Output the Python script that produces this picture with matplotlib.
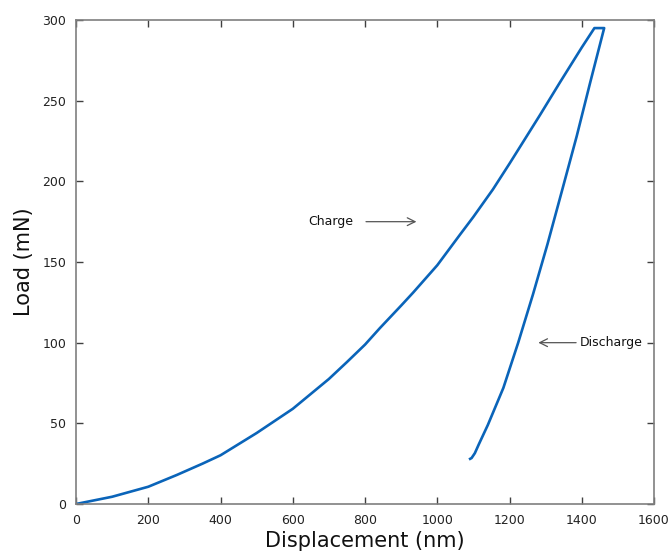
import numpy as np
import matplotlib.pyplot as plt

# load-displacement data
charge_x = [0, 100, 200, 279, 350, 400, 500, 600, 700, 750, 800, 841, 900, 933,
            1000, 1063, 1100, 1154, 1200, 1284, 1340, 1400, 1435]
charge_y = [0, 4.5, 10.7, 18, 25, 30.2, 44, 59, 77.5, 88, 98.8, 109, 123, 131,
            148, 167, 178, 195, 211, 241, 261.5, 283, 295]

hold_x = [1435, 1462]
hold_y = [295, 295]

discharge_x = [1462, 1423, 1386, 1345, 1305, 1265, 1224, 1183, 1140, 1115, 1104, 1095, 1091]
discharge_y = [295, 261, 228, 194, 161, 130, 100, 72, 49, 37, 31.5, 28.5, 28]

xticks = [0, 200, 400, 600, 800, 1000, 1200, 1400, 1600]
yticks = [0, 50, 100, 150, 200, 250, 300]

blue = '#0a64b9'
grey = '#7f7f7f'

fig = plt.figure(figsize=(6.71, 5.53), dpi=100)
ax = fig.add_axes([0.1133, 0.0886, 0.8614, 0.8752])

x = charge_x + hold_x[1:] + discharge_x[1:]
y = charge_y + hold_y[1:] + discharge_y[1:]
ax.plot(x, y, color=blue, lw=1.9, solid_joinstyle='round')

ax.set_xlim(0, 1600)
ax.set_ylim(0, 300)
ax.set_xticks(xticks)
ax.set_yticks(yticks)

for s in ax.spines.values():
    s.set_color(grey)
    s.set_linewidth(1.2)
ax.tick_params(direction='in', top=True, right=True, length=5, width=1,
               color='#404040', labelsize=9, colors='#222222')
ax.tick_params(axis='x', pad=7)
ax.tick_params(axis='y', pad=7)

ax.set_xlabel('Displacement (nm)', fontsize=15, labelpad=3, color='#111111')
ax.set_ylabel('Load (mN)', fontsize=15, labelpad=6, color='#111111')

arrow = dict(arrowstyle='->', color='#555555', lw=0.9, mutation_scale=14)
ax.annotate('', xy=(950, 175), xytext=(795, 175), arrowprops=arrow)
ax.text(642, 175, 'Charge', fontsize=9, va='center', ha='left', color='#111111')
ax.annotate('', xy=(1272, 100), xytext=(1392, 100), arrowprops=arrow)
ax.text(1395, 100, 'Discharge', fontsize=9, va='center', ha='left', color='#111111')

fig.savefig('out.png', dpi=100)
